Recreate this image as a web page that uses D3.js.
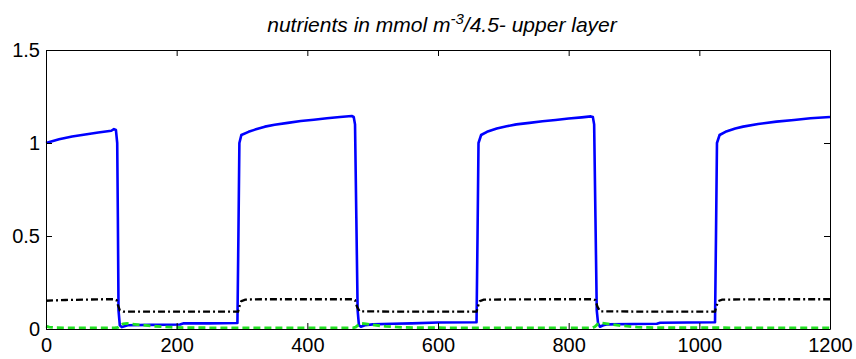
<!DOCTYPE html>
<html>
<head>
<meta charset="utf-8">
<script src="https://cdn.jsdelivr.net/npm/d3@7"></script>
<style>
    body { margin: 0; background: #fff; }
    #chart text { font-family: "Liberation Sans", Arial, sans-serif; fill: #000; }
</style>
</head>
<body>
<div id="chart"></div>
<script>
// x axis ticks and y axis ticks
const xTicks = [0, 200, 400, 600, 800, 1000, 1200];
const yTicks = [0, 0.5, 1, 1.5];

// blue solid line: nutrient concentration
const blueTime = [0, 20, 40, 60, 80, 100, 104, 107, 109, 110, 111, 113, 116, 120, 125, 160, 205, 210, 250, 293,
    294.5, 296, 299, 310, 320, 335, 350, 370, 390, 410, 430, 450, 468, 471, 473, 475, 477, 479, 482, 488, 500, 530,
    560, 600, 659, 660.5, 662, 666, 675, 690, 705, 720, 740, 760, 780, 800, 820, 834, 837, 839, 841, 843, 845, 848,
    853, 860, 900, 935, 940, 1024, 1025.5, 1027, 1031, 1040, 1055, 1067, 1090, 1118, 1145, 1170, 1200];
const blueValue = [1.0, 1.02, 1.035, 1.046, 1.056, 1.066, 1.075, 1.07, 1.0, 0.6, 0.1, 0.02, 0.01, 0.015, 0.02, 0.022, 0.024, 0.03, 0.03, 0.032,
    0.5, 1.0, 1.043, 1.06, 1.072, 1.088, 1.098, 1.108, 1.118, 1.125, 1.133, 1.14, 1.145, 1.14, 1.1, 0.6, 0.1, 0.02, 0.012, 0.02, 0.025, 0.028,
    0.03, 0.035, 0.036, 0.5, 1.0, 1.043, 1.06, 1.078, 1.09, 1.1, 1.108, 1.117, 1.124, 1.132, 1.138, 1.143, 1.14, 1.1, 0.6, 0.1, 0.03, 0.012,
    0.02, 0.025, 0.027, 0.028, 0.034, 0.036, 0.5, 1.0, 1.043, 1.06, 1.078, 1.088, 1.102, 1.115, 1.124, 1.133, 1.14];

// black dash-dot line
const blackTime = [0, 30, 60, 90, 105, 108, 110, 113, 118, 200, 294, 296, 299, 305, 330, 400, 470, 473, 476, 480,
    560, 659, 661, 664, 670, 760, 838, 841, 844, 848, 940, 1024, 1026, 1029, 1035, 1100, 1200];
const blackValue = [0.152, 0.156, 0.158, 0.16, 0.16, 0.155, 0.13, 0.1, 0.093, 0.093, 0.093, 0.12, 0.15, 0.158, 0.16, 0.16, 0.16, 0.155, 0.12, 0.095,
    0.093, 0.093, 0.12, 0.15, 0.158, 0.16, 0.16, 0.155, 0.12, 0.095, 0.093, 0.093, 0.12, 0.15, 0.158, 0.16, 0.16];

// green dashed line
const greenTime = [0, 5, 15, 40, 105, 110, 114, 118, 124, 130, 145, 165, 190, 210, 300, 470, 474, 478, 482, 490,
    500, 520, 545, 570, 660, 836, 840, 844, 850, 860, 880, 905, 930, 1200];
const greenValue = [0.015, 0.01, 0.007, 0.006, 0.006, 0.008, 0.02, 0.028, 0.03, 0.027, 0.022, 0.015, 0.01, 0.007, 0.006, 0.006, 0.01, 0.022, 0.03, 0.028,
    0.022, 0.014, 0.009, 0.007, 0.006, 0.006, 0.012, 0.025, 0.032, 0.028, 0.018, 0.01, 0.007, 0.006];

const WIDTH = 856, HEIGHT = 359;
const MARGIN = {top: 50, right: 26, bottom: 30, left: 46};
const plotWidth = WIDTH - MARGIN.left - MARGIN.right;
const plotHeight = HEIGHT - MARGIN.top - MARGIN.bottom;

const svg = d3.select("#chart")
    .append("svg")
    .attr("width", WIDTH)
    .attr("height", HEIGHT);

const g = svg.append("g")
    .attr("transform", "translate(" + MARGIN.left + "," + MARGIN.top + ")");

var x = d3.scaleLinear().domain([0, 1200]).range([0, plotWidth]);
var y = d3.scaleLinear().domain([0, 1.5]).range([plotHeight, 0]);

function zip(ts, vs) {
    return ts.map((t, i) => ({time: t, value: vs[i]}));
}

var line = d3.line()
    .x(d => x(d.time))
    .y(d => y(d.value));

// the three series
g.append("path")
    .datum(zip(blueTime, blueValue))
    .attr("fill", "none")
    .attr("stroke", "#0000ff")
    .attr("stroke-width", 2.6)
    .attr("stroke-linejoin", "round")
    .attr("d", line);

g.append("path")
    .datum(zip(blackTime, blackValue))
    .attr("fill", "none")
    .attr("stroke", "#000")
    .attr("stroke-width", 2.3)
    .attr("stroke-dasharray", "7,3,2,3")
    .attr("d", line);

g.append("path")
    .datum(zip(greenTime, greenValue))
    .attr("fill", "none")
    .attr("stroke", "#22e022")
    .attr("stroke-width", 2.8)
    .attr("stroke-dasharray", "7,4")
    .attr("d", line);

// axes, ticks pointing inward on all four sides
g.append("g")
    .attr("transform", "translate(0," + plotHeight + ")")
    .call(d3.axisBottom(x).tickValues(xTicks).tickSize(-6).tickSizeOuter(0).tickPadding(9)
        .tickFormat(d3.format("d")))
    .call(a => a.selectAll("text").style("font-size", "20px"));

g.append("g")
    .call(d3.axisLeft(y).tickValues(yTicks).tickSize(-6).tickSizeOuter(0).tickPadding(6)
        .tickFormat(d3.format("~g")))
    .call(a => a.selectAll("text").style("font-size", "20px"));

g.append("g")
    .call(d3.axisTop(x).tickValues(xTicks).tickSize(-6).tickSizeOuter(0).tickFormat(""));

g.append("g")
    .attr("transform", "translate(" + plotWidth + ",0)")
    .call(d3.axisRight(y).tickValues(yTicks).tickSize(-6).tickSizeOuter(0).tickFormat(""));

g.selectAll(".domain").attr("stroke", "#000");
g.selectAll(".tick line").attr("stroke", "#000");

// title with superscript
const title = svg.append("text")
    .attr("x", 442)
    .attr("y", 32)
    .attr("text-anchor", "middle")
    .style("font-size", "21px")
    .style("font-style", "italic");
title.append("tspan").text("nutrients in mmol m");
title.append("tspan").attr("dy", -8).style("font-size", "15px").text("-3");
title.append("tspan").attr("dy", 8).text("/4.5- upper layer");
</script>
</body>
</html>
